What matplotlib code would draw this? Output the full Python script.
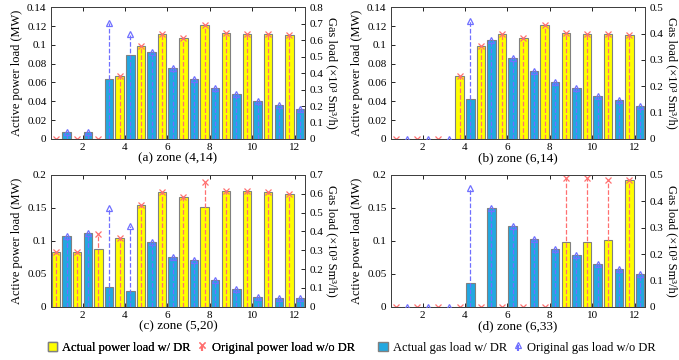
import numpy as np
import matplotlib
matplotlib.use('Agg')
import matplotlib.pyplot as plt
from matplotlib.patches import Patch

plt.rcParams['font.family'] = ['Liberation Serif', 'DejaVu Serif']

hours = np.arange(1, 13)

# zone (4,14)
a_power = [0, 0, 0, 0.067, 0.099, 0.111, 0.107, 0.121, 0.113, 0.112, 0.111, 0.110]
a_power_orig = [0, 0, 0, 0.067, 0.099, 0.111, 0.107, 0.121, 0.113, 0.112, 0.111, 0.110]
a_gas = [0.042, 0.042, 0.366, 0.509, 0.531, 0.432, 0.366, 0.309, 0.273, 0.232, 0.206, 0.180]
a_gas_orig = [0.042, 0.042, 0.707, 0.638, 0.531, 0.432, 0.366, 0.309, 0.273, 0.232, 0.206, 0.180]

# zone (6,14)
b_power = [0, 0, 0, 0.067, 0.099, 0.111, 0.107, 0.121, 0.113, 0.112, 0.111, 0.110]
b_power_orig = [0, 0, 0, 0.067, 0.099, 0.111, 0.107, 0.121, 0.113, 0.112, 0.111, 0.110]
b_gas = [0, 0, 0, 0.153, 0.375, 0.308, 0.259, 0.218, 0.194, 0.162, 0.146, 0.126]
b_gas_orig = [0, 0, 0, 0.449, 0.375, 0.308, 0.259, 0.218, 0.194, 0.162, 0.146, 0.126]

# zone (5,20)
c_power = [0.083, 0.083, 0.0875, 0.105, 0.155, 0.1735, 0.167, 0.152, 0.176, 0.1755, 0.174, 0.1715]
c_power_orig = [0.083, 0.083, 0.110, 0.105, 0.155, 0.1735, 0.167, 0.189, 0.176, 0.1755, 0.174, 0.1715]
c_gas = [0.376, 0.394, 0.103, 0.085, 0.346, 0.265, 0.249, 0.142, 0.093, 0.052, 0.048, 0.048]
c_gas_orig = [0.376, 0.394, 0.527, 0.427, 0.346, 0.265, 0.249, 0.142, 0.093, 0.052, 0.048, 0.048]

# zone (6,33)
d_power = [0, 0, 0, 0, 0, 0, 0, 0, 0.0977, 0.0977, 0.101, 0.192]
d_power_orig = [0, 0, 0, 0, 0, 0, 0, 0, 0.195, 0.195, 0.193, 0.192]
d_gas = [0, 0, 0, 0.090, 0.375, 0.307, 0.258, 0.219, 0.195, 0.164, 0.145, 0.125]
d_gas_orig = [0, 0, 0, 0.449, 0.375, 0.307, 0.258, 0.219, 0.195, 0.164, 0.145, 0.125]

panels = [
    ('(a) zone (4,14)', a_power, a_power_orig, a_gas, a_gas_orig, 0.14, 0.02, 0.8, 0.1),
    ('(b) zone (6,14)', b_power, b_power_orig, b_gas, b_gas_orig, 0.14, 0.02, 0.5, 0.1),
    ('(c) zone (5,20)', c_power, c_power_orig, c_gas, c_gas_orig, 0.2, 0.05, 0.7, 0.1),
    ('(d) zone (6,33)', d_power, d_power_orig, d_gas, d_gas_orig, 0.2, 0.05, 0.5, 0.1),
]

yellow = '#FFFF00'
blue = '#22A8E0'
edge = '#808080'
red_stem = '#FF7070'
blue_stem = '#7070FF'

fig = plt.figure(figsize=(6.79, 3.6), dpi=100)
boxes = [(0.0747, 0.614), (0.5754, 0.614), (0.0747, 0.148), (0.5754, 0.148)]
w, h = 0.375, 0.366

for (title, pw, pwo, gs, gso, lmax, lstep, rmax, rstep), (x0, y0) in zip(panels, boxes):
    ax = fig.add_axes([x0, y0, w, h])
    ax2 = ax.twinx()
    xp = hours - 0.25
    xg = hours + 0.25
    ax.bar(xp, pw, width=0.4, color=yellow, edgecolor=edge, linewidth=0.8, zorder=2)
    stem_p = ax.stem(xp, pwo, linefmt='--', markerfmt='x', basefmt=' ')
    plt.setp(stem_p.stemlines, color=red_stem, linewidth=0.9, zorder=3)
    plt.setp(stem_p.markerline, color=red_stem, markersize=4, markeredgewidth=0.9, zorder=4)
    ax2.bar(xg, gs, width=0.4, color=blue, edgecolor=edge, linewidth=0.8, zorder=2)
    stem_g = ax2.stem(xg, gso, linefmt='--', markerfmt='^', basefmt=' ')
    plt.setp(stem_g.stemlines, color=blue_stem, linewidth=0.9, zorder=3)
    plt.setp(stem_g.markerline, markerfacecolor='none', markeredgecolor=blue_stem,
             markersize=4, markeredgewidth=0.9, zorder=4)

    ax.set_xlim(0.5, 12.5)
    ax.set_ylim(0, lmax)
    ax2.set_ylim(0, rmax)
    ax.set_xticks([2, 4, 6, 8, 10, 12])
    ax.set_yticks(np.round(np.arange(0, lmax + 1e-9, lstep), 3))
    ax2.set_yticks(np.round(np.arange(0, rmax + 1e-9, rstep), 2))
    ax.yaxis.set_major_formatter(plt.FuncFormatter(lambda v, p: ('%g' % v)))
    ax2.yaxis.set_major_formatter(plt.FuncFormatter(lambda v, p: ('%g' % v)))
    ax.tick_params(direction='in', length=3, width=0.6, labelsize=8, top=True, pad=3)
    ax2.tick_params(direction='in', length=3, width=0.6, labelsize=8, pad=3)
    ax.set_ylabel('Active power load (MW)', fontsize=9, labelpad=3)
    ax2.set_ylabel('Gas load (×10³ Sm³/h)', fontsize=9, rotation=270, labelpad=10)
    ax.set_xlabel(title, fontsize=9.5, labelpad=0)
    for a in (ax, ax2):
        for sp in a.spines.values():
            sp.set_color('#404040')
            sp.set_linewidth(0.7)

leg_kw = dict(loc='center left', ncol=2, frameon=False, fontsize=9, handlelength=0.75,
              handleheight=0.75, handletextpad=0.4, columnspacing=0.5, numpoints=1,
              borderpad=0, borderaxespad=0)
leg1 = fig.legend([Patch(facecolor=yellow, edgecolor=edge), stem_p],
                  ['Actual power load w/ DR', 'Original power load w/o DR'],
                  bbox_to_anchor=(0.0707, 0.033), **leg_kw)
fig.add_artist(leg1)
fig.legend([Patch(facecolor=blue, edgecolor=edge), stem_g],
           ['Actual gas load w/ DR', 'Original gas load w/o DR'],
           bbox_to_anchor=(0.557, 0.033), **leg_kw)

fig.savefig('out.png', dpi=100)
